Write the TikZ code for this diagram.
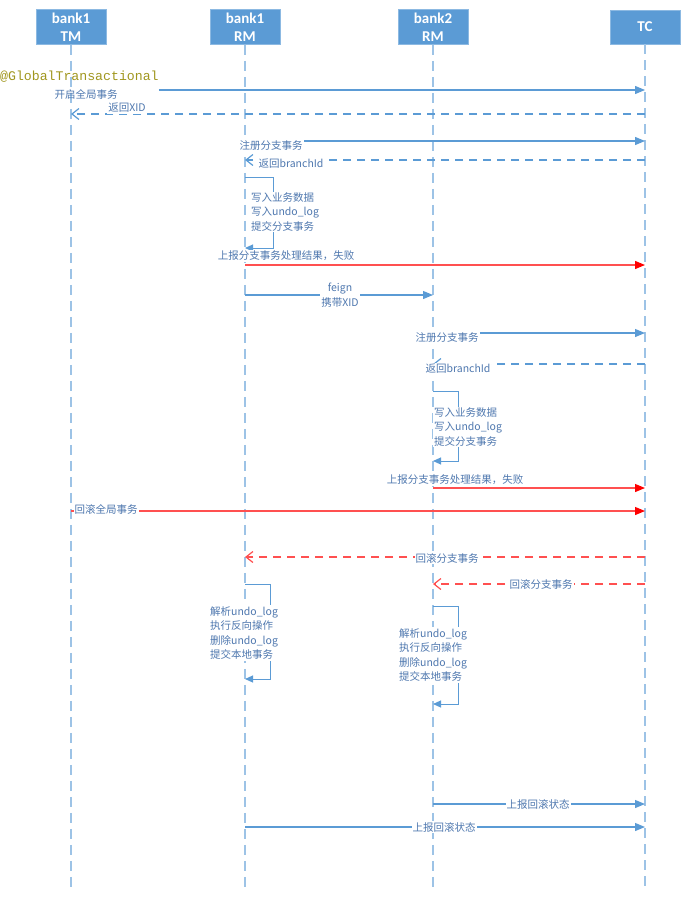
\documentclass[tikz,border=0pt]{standalone}
\usepackage{fontspec}
\setmainfont{Noto Sans CJK SC}
\newfontfamily\boxfont{Carlito}
\newfontfamily\codefont{Liberation Mono}
\usetikzlibrary{arrows.meta}
\definecolor{seqblue}{RGB}{91,155,213}
\definecolor{seqline}{RGB}{157,195,230}
\definecolor{seqtext}{RGB}{79,120,175}
\definecolor{seqred}{RGB}{255,80,80}
\definecolor{seqolive}{RGB}{160,150,30}

\begin{document}
\begin{tikzpicture}[x=1pt,y=-1pt,
        actor/.style={rectangle, fill=seqblue, draw=seqblue!70!white, minimum width=70pt,
                      minimum height=34pt, align=center, text=white,
                      font=\boxfont\bfseries\fontsize{15}{18}\selectfont},
        lifeline/.style={draw=seqline, line width=1.5pt, dash pattern=on 10pt off 6pt},
        msg/.style={draw=seqblue, line width=1.2pt, -{Triangle[length=10pt,width=8pt]}},
        ret/.style={draw=seqblue, line width=1.2pt, dash pattern=on 8pt off 6pt,
                    -{Straight Barb[length=7pt,width=11pt]}},
        fail/.style={draw=seqred, line width=1.2pt, -{Triangle[length=10pt,width=8pt,color=red]}},
        undo/.style={draw=seqred, line width=1.2pt, dash pattern=on 8pt off 6pt,
                     -{Straight Barb[length=7pt,width=11pt]}},
        selfmsg/.style={draw=seqblue, line width=1pt, -{Triangle[length=8pt,width=7pt]}},
        lbl/.style={text=seqtext, font=\fontsize{10.5}{14.5}\selectfont, inner sep=1pt},
        note/.style={lbl, fill=white, align=left, anchor=west}
      ]
        \useasboundingbox (0,0) rectangle (696,899);

        \node[actor] (tm)  at (71,27)  {bank1\\TM};
        \node[actor] (rm1) at (245,27) {bank1\\RM};
        \node[actor] (rm2) at (433,27) {bank2\\RM};
        \node[actor] (tc)  at (645,27) {TC};
        \foreach \n in {tm,rm1,rm2,tc}
          \draw[lifeline] (\n.south) -- (\n |- 0,887);

        \node[anchor=west, inner sep=0pt, text=seqolive,
              font=\codefont\fontsize{13.2}{15}\selectfont] (gt) at (0,77) {@GlobalTransactional};
        \draw[msg] (gt.east |- 0,90) -- (tc |- 0,90);
        \node[lbl] (begin) at (86,94) {开启全局事务};
        \draw[ret] (tc |- 0,114) -- (tm |- 0,114);
        \node[lbl, fill=white] (xid) at (127,108) {返回XID};

        \draw[msg] (rm1 |- 0,141) -- (tc |- 0,141);
        \node[lbl, fill=white] (reg1) at (271,146) {注册分支事务};
        \draw[ret] (tc |- 0,160) -- (rm1 |- 0,160);
        \node[lbl, fill=white] (bid1) at (291,164) {返回branchId};
        \draw[selfmsg] (rm1 |- 0,177) -- ++(28,0) |- (rm1 |- 0,248);
        \node[note] (work1) at (250,212) {写入业务数据\\写入undo\_log\\提交分支事务};
        \draw[fail] (rm1 |- 0,265) -- (tc |- 0,265);
        \node[lbl, fill=white] (rep1) at (286,256) {上报分支事务处理结果，失败};

        \draw[msg] (rm1 |- 0,295) -- (rm2 |- 0,295);
        \node[lbl, fill=white, align=center] (feign) at (340,295) {feign\\携带XID};

        \draw[msg] (rm2 |- 0,333) -- (tc |- 0,333);
        \node[lbl, fill=white] (reg2) at (447,338) {注册分支事务};
        \draw[ret] (tc |- 0,364) -- (rm2 |- 0,364);
        \node[lbl, fill=white] (bid2) at (458,369) {返回branchId};
        \draw[selfmsg] (rm2 |- 0,391) -- ++(25,0) |- (rm2 |- 0,461);
        \node[note] (work2) at (433,427) {写入业务数据\\写入undo\_log\\提交分支事务};
        \draw[fail] (rm2 |- 0,488) -- (tc |- 0,488);
        \node[lbl, fill=white] (rep2) at (455,480) {上报分支事务处理结果，失败};

        \draw[fail] (tm |- 0,511) -- (tc |- 0,511);
        \node[lbl, fill=white] (gback) at (106,509) {回滚全局事务};
        \draw[undo] (tc |- 0,557) -- (rm1 |- 0,557);
        \node[lbl, fill=white] (back1) at (447,558) {回滚分支事务};
        \draw[undo] (tc |- 0,584) -- (rm2 |- 0,584);
        \node[lbl, fill=white] (back2) at (541,584) {回滚分支事务};

        \draw[selfmsg] (rm1 |- 0,584) -- ++(25,0) |- (rm1 |- 0,679);
        \node[note] (undo1) at (209,633) {解析undo\_log\\执行反向操作\\删除undo\_log\\提交本地事务};
        \draw[selfmsg] (rm2 |- 0,606) -- ++(25,0) |- (rm2 |- 0,704);
        \node[note] (undo2) at (398,655) {解析undo\_log\\执行反向操作\\删除undo\_log\\提交本地事务};

        \draw[msg] (rm2 |- 0,804) -- (tc |- 0,804);
        \node[lbl, fill=white] (state2) at (538,804) {上报回滚状态};
        \draw[msg] (rm1 |- 0,827) -- (tc |- 0,827);
        \node[lbl, fill=white] (state1) at (444,827) {上报回滚状态};
      \end{tikzpicture}
\end{document}
